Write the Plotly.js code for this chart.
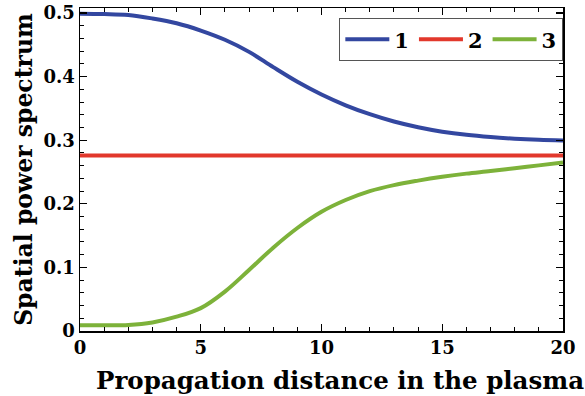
<!DOCTYPE html>
<html><head><meta charset="utf-8">
<script src="https://cdn.plot.ly/plotly-3.0.1.min.js"></script>
<style>html,body{margin:0;padding:0;background:#fff;}#chart{width:585px;height:396px;}</style>
</head><body><div id="chart"></div>
<script>
const xValues = [0,1,2,3,4,5,6,7,8,9,10,11,12,13,14,15,16,17,18,19,20];
const series1 = [0.499,0.4985,0.497,0.4915,0.484,0.4725,0.458,0.439,0.415,0.392,0.372,0.355,0.341,0.3295,0.3205,0.3135,0.3085,0.305,0.3025,0.3007,0.2995];
const series2 = [0.276,0.276,0.276,0.276,0.276,0.276,0.276,0.276,0.276,0.276,0.276,0.276,0.276,0.276,0.276,0.276,0.276,0.276,0.276,0.276,0.276];
const series3 = [0.009,0.009,0.0095,0.0135,0.0225,0.036,0.062,0.096,0.131,0.162,0.1875,0.206,0.22,0.2295,0.2365,0.2425,0.2475,0.2515,0.256,0.2605,0.265];
const seriesNames = ['1','2','3'];
const colors = ['#3347a0','#e2382c','#7db23a'];
const xTickVals = [0,5,10,15,20];
const yTickVals = [0,0.1,0.2,0.3,0.4,0.5];
const yTickText = ['0','0.1','0.2','0.3','0.4','0.5'];
const xTitle = 'Propagation distance in the plasma';
const yTitle = 'Spatial power spectrum';

const font = 'DejaVu Serif';
const traces = [series1, series2, series3].map((ys, i) => ({
  x: xValues, y: ys, name: seriesNames[i], type: 'scatter', mode: 'lines',
  line: {color: colors[i], width: 4, shape: 'spline', smoothing: 1}
}));

const axisCommon = {
  showgrid: false, zeroline: false, showline: true, linecolor: '#000', linewidth: 1.5,
  mirror: 'ticks', ticks: 'inside', ticklen: 7, tickwidth: 1.2, tickcolor: '#000',
  tickfont: {family: font, size: 18, color: '#000', weight: 'bold'}
};

const layout = {
  width: 585, height: 396,
  margin: {l: 80, r: 22, t: 8, b: 65},
  paper_bgcolor: '#fff', plot_bgcolor: '#fff',
  font: {family: font, color: '#000'},
  xaxis: Object.assign({}, axisCommon, {
    range: [0, 20], tickvals: xTickVals,
    minor: {dtick: 1, ticks: 'inside', ticklen: 4, tickcolor: '#000', tickwidth: 1}
  }),
  yaxis: Object.assign({}, axisCommon, {
    range: [0, 0.508], tickvals: yTickVals, ticktext: yTickText,
    minor: {dtick: 0.02, ticks: 'inside', ticklen: 4, tickcolor: '#000', tickwidth: 1},
    title: {text: yTitle, font: {family: font, size: 23.5, weight: 'bold', color: '#000'}, standoff: 4}
  }),
  annotations: [{
    text: xTitle, xref: 'paper', yref: 'paper', x: 0.5386, y: -0.152,
    xanchor: 'center', yanchor: 'middle', showarrow: false,
    font: {family: font, size: 24.5, weight: 'bold', color: '#000'}
  }],
  legend: {
    orientation: 'h', x: 0.5365, xanchor: 'left', y: 0.969, yanchor: 'top',
    bgcolor: '#fff', bordercolor: '#555', borderwidth: 1.2,
    font: {family: font, size: 21, weight: 'bold', color: '#000'},
    itemwidth: 44, tracegroupgap: 0
  },
  showlegend: true
};

Plotly.newPlot('chart', traces, layout, {displayModeBar: false, staticPlot: true});
</script>
</body></html>
